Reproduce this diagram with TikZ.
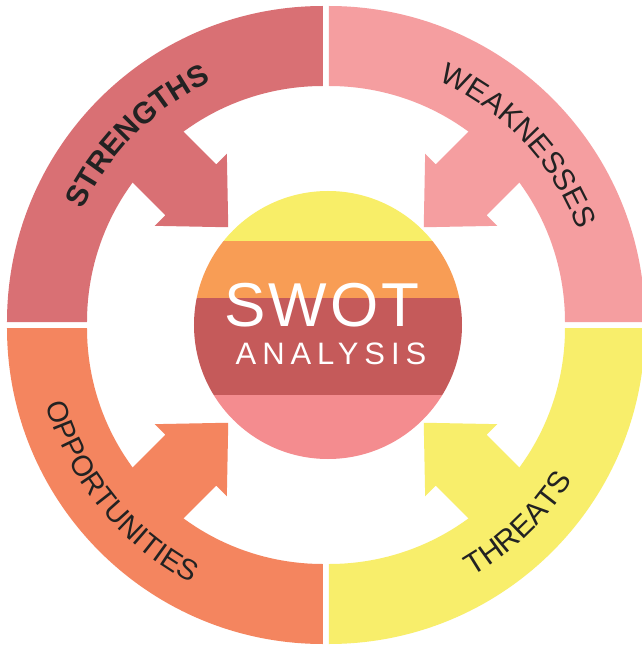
\documentclass[tikz,border=0pt]{standalone}
\usepackage{fontspec}
\setmainfont{Liberation Sans}
\newfontfamily\swotfont[LetterSpace=5]{Liberation Sans}
\newfontfamily\analysisfont[LetterSpace=19]{Liberation Sans}
\usetikzlibrary{decorations.text}
\definecolor{strengthred}{HTML}{D97074}
\definecolor{weaknesspink}{HTML}{F59EA0}
\definecolor{opportunityorange}{HTML}{F4855F}
\definecolor{threatyellow}{HTML}{F8EE6B}
\definecolor{bandyellow}{HTML}{F8EE68}
\definecolor{bandorange}{HTML}{F89D55}
\definecolor{bandred}{HTML}{C55A5A}
\definecolor{bandpink}{HTML}{F48C8F}
\definecolor{labelgrey}{HTML}{222222}
\begin{document}
\begin{tikzpicture}[x=1pt, y=1pt,
    quarter/.style={fill=#1},
    ring label/.style={decorate, decoration={text along path, text align=center, text color=labelgrey, text={#1}}}]
    \clip (-326,-323) rectangle (316,325);
    \fill[white] (-326,-323) rectangle (316,325);
    % strengths
    \begin{scope}[shift={(-3,3)}, quarter=strengthred]
        \path[fill] (180:316) arc[start angle=180, end angle=90, radius=316] -- (90:236) arc[start angle=90, end angle=180, radius=236] -- cycle;
        \path[fill, rotate=135] (134,0) -- (187,51) -- (187,36) -- (250,36) -- (250,-36) -- (187,-36) -- (187,-51) -- cycle;
        \path[ring label={|\fontsize{30}{30}\selectfont\bfseries|STRENGTHS}] (175:265) arc[start angle=175, end angle=95, radius=265];
    \end{scope}
    % weaknesses
    \begin{scope}[shift={(3,3)}, quarter=weaknesspink]
        \path[fill] (90:316) arc[start angle=90, end angle=0, radius=316] -- (0:236) arc[start angle=0, end angle=90, radius=236] -- cycle;
        \path[fill, rotate=45] (134,0) -- (187,51) -- (187,36) -- (250,36) -- (250,-36) -- (187,-36) -- (187,-51) -- cycle;
        \path[ring label={|\fontsize{30}{30}\selectfont|WEAKNESSES}] (83:265) arc[start angle=83, end angle=3, radius=265];
    \end{scope}
    % opportunities
    \begin{scope}[shift={(-3,-3)}, quarter=opportunityorange]
        \path[fill] (180:316) arc[start angle=180, end angle=270, radius=316] -- (270:236) arc[start angle=270, end angle=180, radius=236] -- cycle;
        \path[fill, rotate=225] (134,0) -- (187,51) -- (187,36) -- (250,36) -- (250,-36) -- (187,-36) -- (187,-51) -- cycle;
        \path[ring label={|\fontsize{29}{29}\selectfont|OPPORTUNITIES}] (179:287) arc[start angle=179, end angle=259, radius=287];
    \end{scope}
    % threats
    \begin{scope}[shift={(3,-3)}, quarter=threatyellow]
        \path[fill] (270:316) arc[start angle=270, end angle=360, radius=316] -- (0:236) arc[start angle=0, end angle=-90, radius=236] -- cycle;
        \path[fill, rotate=315] (134,0) -- (187,51) -- (187,36) -- (250,36) -- (250,-36) -- (187,-36) -- (187,-51) -- cycle;
        \path[ring label={|\fontsize{30}{30}\selectfont|THREATS}] (274:287) arc[start angle=274, end angle=354, radius=287];
    \end{scope}
    % centre disc
    \begin{scope}
        \clip (2,0) circle (134);
        \fill[bandyellow] (-140,84) rectangle (140,140);
        \fill[bandorange] (-140,27) rectangle (140,84);
        \fill[bandred] (-140,-70) rectangle (140,27);
        \fill[bandpink] (-140,-140) rectangle (140,-70);
    \end{scope}
    \node[text=white, font=\swotfont\fontsize{62}{62}\selectfont] (swot) at (-4,20) {SWOT};
    \node[text=white, font=\analysisfont\fontsize{31}{31}\selectfont] (analysis) at (5,-29) {ANALYSIS};
\end{tikzpicture}
\end{document}
